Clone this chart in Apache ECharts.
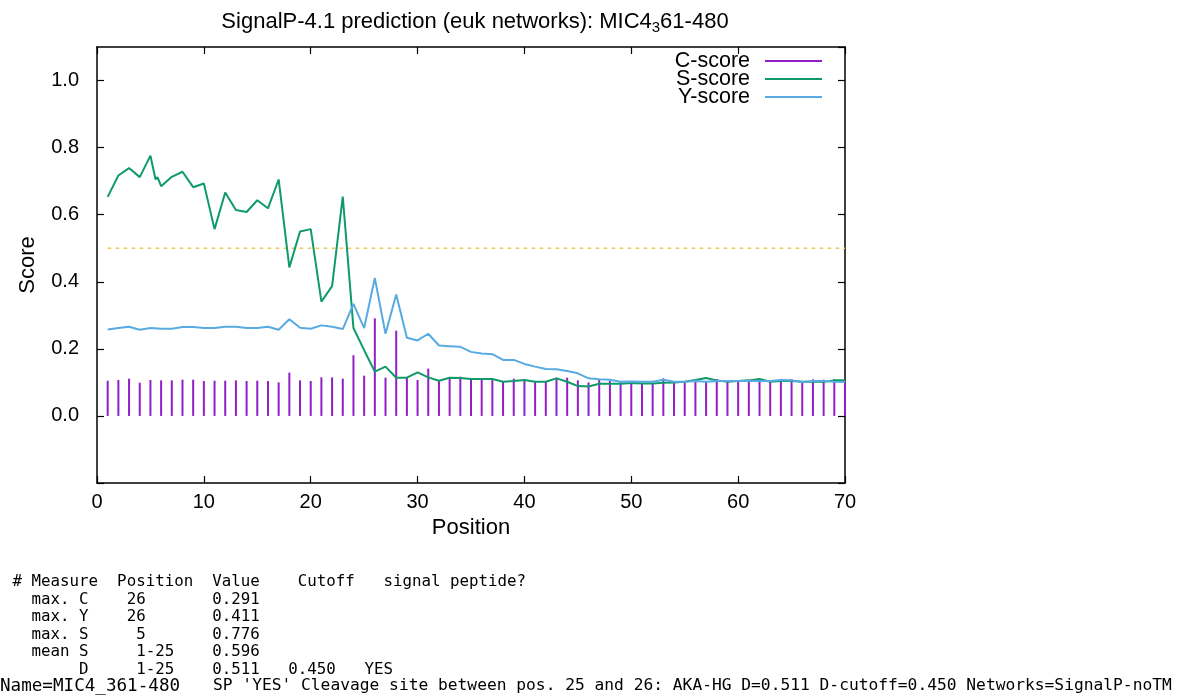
<!DOCTYPE html>
<html>
<head>
<meta charset="utf-8">
<script src="https://cdn.jsdelivr.net/npm/echarts@6/dist/echarts.min.js"></script>
<style>
html,body{margin:0;padding:0;background:#fff;}
#chart{width:1177px;height:697px;}
</style>
</head>
<body>
<div id="chart"></div>
<script>
// ---- data ----
const positions = [1,2,3,4,5,6,7,8,9,10,11,12,13,14,15,16,17,18,19,20,21,22,23,24,25,26,27,28,29,30,31,32,33,34,35,36,37,38,39,40,41,42,43,44,45,46,47,48,49,50,51,52,53,54,55,56,57,58,59,60,61,62,63,64,65,66,67,68,69,70];
const cScore = [0.105,0.107,0.111,0.099,0.107,0.106,0.106,0.108,0.108,0.104,0.105,0.105,0.106,0.104,0.105,0.104,0.100,0.129,0.106,0.104,0.115,0.115,0.111,0.181,0.120,0.291,0.114,0.254,0.114,0.107,0.141,0.105,0.114,0.117,0.109,0.109,0.109,0.102,0.111,0.109,0.104,0.102,0.114,0.114,0.106,0.100,0.107,0.104,0.100,0.103,0.099,0.099,0.112,0.099,0.099,0.104,0.102,0.110,0.102,0.102,0.102,0.104,0.102,0.110,0.110,0.099,0.109,0.108,0.110,0.105];
const sPositions = [1,2,3,4,5,5.48,5.66,6,7,8,9,10,11,12,13,14,15,16,17,18,19,20,21,22,23,24,25,26,27,28,29,30,31,32,33,34,35,36,37,38,39,40,41,42,43,44,45,46,47,48,49,50,51,52,53,54,55,56,57,58,59,60,61,62,63,64,65,66,67,68,69,70];
const sScore = [0.653,0.717,0.739,0.712,0.776,0.705,0.712,0.685,0.713,0.728,0.682,0.693,0.557,0.666,0.614,0.608,0.643,0.619,0.705,0.443,0.550,0.557,0.341,0.387,0.654,0.262,0.196,0.132,0.147,0.114,0.114,0.130,0.115,0.105,0.114,0.113,0.110,0.110,0.110,0.102,0.104,0.107,0.102,0.102,0.112,0.102,0.089,0.088,0.096,0.096,0.096,0.098,0.097,0.097,0.099,0.100,0.102,0.107,0.113,0.106,0.102,0.104,0.106,0.110,0.102,0.104,0.104,0.102,0.102,0.102,0.106,0.106];
const yScore = [0.258,0.262,0.266,0.257,0.262,0.260,0.260,0.265,0.265,0.262,0.262,0.266,0.266,0.262,0.262,0.266,0.257,0.288,0.263,0.260,0.270,0.266,0.259,0.334,0.262,0.411,0.245,0.362,0.233,0.225,0.245,0.210,0.208,0.206,0.191,0.186,0.184,0.167,0.167,0.155,0.147,0.140,0.139,0.134,0.127,0.112,0.109,0.108,0.102,0.103,0.102,0.102,0.108,0.102,0.102,0.104,0.102,0.104,0.104,0.104,0.104,0.104,0.104,0.107,0.106,0.101,0.104,0.104,0.102,0.101];
const cutoffX = [1, 70];
const cutoffY = [0.5, 0.5];
const seriesNames = ['C-score', 'S-score', 'Y-score'];
const titleMain = 'SignalP-4.1 prediction (euk networks): MIC4';
const titleSub = '3';
const titleTail = '61-480';
const tableLines = [
  '# Measure  Position  Value    Cutoff   signal peptide?',
  '  max. C    26       0.291',
  '  max. Y    26       0.411',
  '  max. S     5       0.776',
  '  mean S     1-25    0.596',
  '       D     1-25    0.511   0.450   YES'
];
const nameLine = 'Name=MIC4_361-480';
const summaryLine = "SP 'YES' Cleavage site between pos. 25 and 26: AKA-HG D=0.511 D-cutoff=0.450 Networks=SignalP-noTM";

// ---- chart ----
const SANS = '"Liberation Sans", Arial, Helvetica, sans-serif';
const MONO = '"DejaVu Sans Mono", monospace';
const zip = (xs, ys) => xs.map((x, i) => [x, ys[i]]);

const chart = echarts.init(document.getElementById('chart'), null, {renderer: 'canvas'});

const axisLineStyle = {color: '#000', width: 1.5};
const mkX = (pos, labels) => ({
  type: 'value', position: pos, min: 0, max: 70, interval: 10,
  axisLine: {show: true, onZero: false, lineStyle: axisLineStyle},
  axisTick: {show: true, inside: true, length: 7, lineStyle: {color: '#000', width: 1.2}},
  axisLabel: {show: labels, color: '#000', fontSize: 20, fontFamily: SANS, margin: 9},
  splitLine: {show: false}
});
const mkY = (pos, labels) => ({
  type: 'value', position: pos, min: -0.2, max: 1.1, interval: 0.2,
  axisLine: {show: true, onZero: false, lineStyle: axisLineStyle},
  axisTick: {show: true, inside: true, length: 7, lineStyle: {color: '#000', width: 1.2}},
  axisLabel: {show: labels, color: '#000', fontSize: 20, fontFamily: SANS, margin: 18,
    showMaxLabel: false,
    formatter: v => (v < -0.01 || v > 1.05) ? '' : v.toFixed(1)},
  splitLine: {show: false}
});

const xBottom = mkX('bottom', true);
xBottom.name = 'Position';
xBottom.nameLocation = 'middle';
xBottom.nameGap = 32;
xBottom.nameTextStyle = {color: '#000', fontSize: 22, fontFamily: SANS};
const yLeft = mkY('left', true);
yLeft.name = 'Score';
yLeft.nameLocation = 'middle';
yLeft.nameGap = 58;
yLeft.nameTextStyle = {color: '#000', fontSize: 22, fontFamily: SANS};

const monoGraphics = tableLines.map((t, i) => ({
  type: 'text', left: 12.5, top: 581.7 - 7.8 + i * 17.6,
  style: {text: t, font: '15.8px ' + MONO, fill: '#000'}
}));
monoGraphics.push({
  type: 'text', left: 0, top: 687.3 - 9.6,
  style: {text: nameLine, font: '17.6px ' + MONO, fill: '#000'}
});
monoGraphics.push({
  type: 'text', left: 213, top: 687.3 - 9.2,
  style: {text: summaryLine, font: '16.26px ' + MONO, fill: '#000'}
});

chart.setOption({
  backgroundColor: '#fff',
  animation: false,
  title: {
    text: '{n|' + titleMain + '}{s|' + titleSub + '}{n|' + titleTail + '}',
    left: 470, top: 6, textAlign: 'center',
    textStyle: {
      fontWeight: 'normal',
      rich: {
        n: {fontSize: 22, fontFamily: SANS, fontWeight: 'normal', color: '#000', lineHeight: 28, verticalAlign: 'top', padding: [0,0,0,0]},
        s: {fontSize: 15, fontFamily: SANS, fontWeight: 'normal', color: '#000', lineHeight: 28, verticalAlign: 'top', padding: [9,0,0,0]}
      }
    }
  },
  grid: {left: 97, right: 332, top: 47, bottom: 214, show: false},
  legend: {
    data: seriesNames,
    orient: 'vertical', right: 350, top: 45, align: 'right',
    icon: 'rect', itemWidth: 57, itemHeight: 2, itemGap: -4,
    textStyle: {fontSize: 21.5, fontFamily: SANS, color: '#000', padding: [0, 10, 0, 0]},
    selectedMode: false
  },
  xAxis: [xBottom, mkX('top', false)],
  yAxis: [yLeft, mkY('right', false)],
  series: [
    {name: seriesNames[0], type: 'bar', data: zip(positions, cScore), barWidth: 2,
      itemStyle: {color: '#9020c6'}, xAxisIndex: 0, yAxisIndex: 0},
    {name: seriesNames[1], type: 'line', data: zip(sPositions, sScore), showSymbol: false, symbol: 'none',
      lineStyle: {color: '#0f9a6a', width: 2}, itemStyle: {color: '#0f9a6a'}},
    {name: seriesNames[2], type: 'line', data: zip(positions, yScore), showSymbol: false, symbol: 'none',
      lineStyle: {color: '#58abe2', width: 2}, itemStyle: {color: '#58abe2'}},
    {name: 'cutoff', type: 'line', data: zip(cutoffX, cutoffY), showSymbol: false, symbol: 'none',
      lineStyle: {color: '#f0c84a', width: 1.6, type: [3.5, 4.5]}, silent: true, z: 1}
  ],
  graphic: monoGraphics
});
</script>
</body>
</html>
